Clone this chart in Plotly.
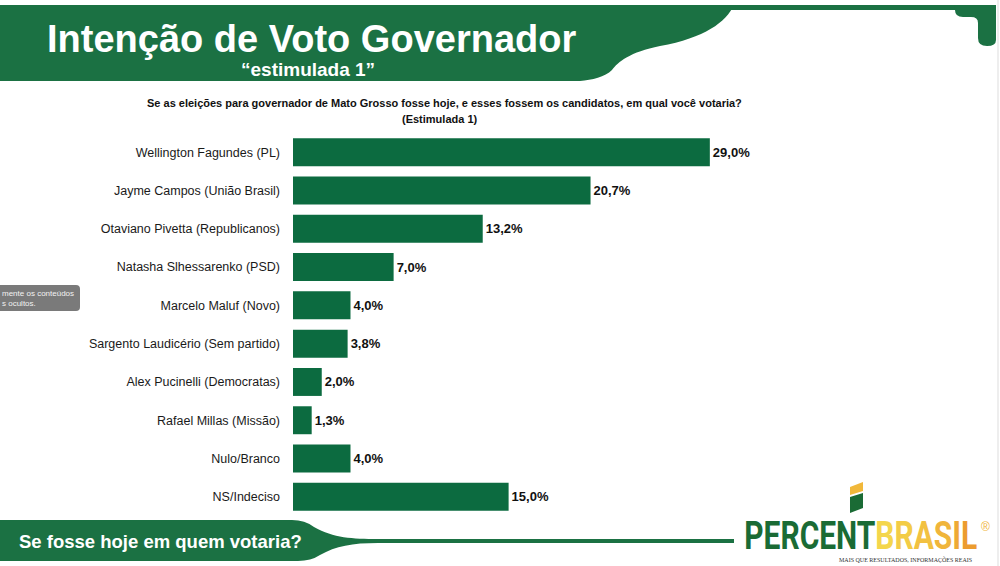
import plotly.graph_objects as go

# --- Data ---
candidatos = [
    "Wellington Fagundes (PL)",
    "Jayme Campos (União Brasil)",
    "Otaviano Pivetta (Republicanos)",
    "Natasha Slhessarenko (PSD)",
    "Marcelo Maluf (Novo)",
    "Sargento Laudicério (Sem partido)",
    "Alex Pucinelli (Democratas)",
    "Rafael Millas (Missão)",
    "Nulo/Branco",
    "NS/Indeciso",
]
percentuais = [29.0, 20.7, 13.2, 7.0, 4.0, 3.8, 2.0, 1.3, 4.0, 15.0]

W, H = 1000, 566
L, R, T, B = 293, 7, 133, 50
PW, PH = W - L - R, H - T - B

GREEN = "#0c6b40"
HEADER = "#1b7143"
FONT = "Liberation Sans, Arial, sans-serif"


def px(x):
    return (x - L) / PW


def py(y):
    return (H - B - y) / PH


def path(points):
    # points in pixel coords -> paper path string
    out = []
    for cmd, vals in points:
        if cmd == "Z":
            out.append("Z")
            continue
        coords = []
        for i in range(0, len(vals), 2):
            coords.append(f"{px(vals[i]):.5f},{py(vals[i + 1]):.5f}")
        out.append(cmd + " " + " ".join(coords))
    return " ".join(out)


fig = go.Figure()
fig.add_trace(go.Bar(
    x=percentuais,
    y=candidatos,
    orientation="h",
    marker=dict(color=GREEN, line=dict(width=0)),
    text=percentuais,
    texttemplate="%{x:.1f}%",
    textposition="outside",
    textfont=dict(family=FONT, size=13, color="#111111", weight="bold"),
    cliponaxis=False,
    hoverinfo="skip",
))

shapes = []
# header band with curved edge
shapes.append(dict(
    type="path", xref="paper", yref="paper", layer="below",
    path=path([
        ("M", [0, 5]), ("L", [734, 5]),
        ("C", [726, 22, 705, 38, 660, 46]),
        ("C", [630, 52, 618, 62, 612, 70]),
        ("C", [605, 77, 592, 80, 580, 81]),
        ("L", [0, 81]), ("Z", []),
    ]),
    fillcolor=HEADER, line=dict(width=0),
))
# thin strip on top right
shapes.append(dict(
    type="path", xref="paper", yref="paper", layer="below",
    path=path([("M", [730, 5]), ("L", [960, 5]), ("L", [960, 10]),
               ("L", [730, 10]), ("Z", [])]),
    fillcolor=HEADER, line=dict(width=0),
))
# knob at the right end
shapes.append(dict(
    type="path", xref="paper", yref="paper", layer="below",
    path=path([
        ("M", [955, 5]), ("L", [996, 5]), ("L", [996, 40]),
        ("Q", [996, 46, 987, 46]), ("Q", [978, 46, 978, 38]),
        ("L", [978, 23]), ("Q", [978, 17, 971, 17]),
        ("L", [963, 17]), ("Q", [955, 17, 955, 10]), ("Z", []),
    ]),
    fillcolor=HEADER, line=dict(width=0),
))
# bottom banner with tapered tail
shapes.append(dict(
    type="path", xref="paper", yref="paper", layer="below",
    path=path([
        ("M", [0, 520]), ("L", [292, 520]),
        ("Q", [305, 520, 314, 527]),
        ("C", [334, 538, 352, 539, 378, 539]),
        ("L", [734, 539]), ("L", [734, 543]), ("L", [378, 543]),
        ("C", [352, 543, 336, 546, 320, 555]),
        ("Q", [311, 561, 298, 561]),
        ("L", [0, 561]), ("Z", []),
    ]),
    fillcolor=HEADER, line=dict(width=0),
))
# logo icon
shapes.append(dict(
    type="path", xref="paper", yref="paper",
    path=path([("M", [850, 487]), ("L", [863, 482]), ("L", [863, 491]),
               ("L", [850, 495]), ("Z", [])]),
    fillcolor="#f1b83a", line=dict(width=0),
))
shapes.append(dict(
    type="path", xref="paper", yref="paper",
    path=path([("M", [850, 497]), ("L", [863, 493]), ("L", [863, 508]),
               ("L", [850, 513]), ("Z", [])]),
    fillcolor="#1a6b35", line=dict(width=0),
))
# grey tooltip box on the left
shapes.append(dict(
    type="path", xref="paper", yref="paper",
    path=path([("M", [0, 285]), ("L", [76, 285]), ("Q", [80, 285, 80, 289]),
               ("L", [80, 307]), ("Q", [80, 311, 76, 311]),
               ("L", [0, 311]), ("Z", [])]),
    fillcolor="#7a7a7a", line=dict(width=0),
))
# page border on the right
shapes.append(dict(
    type="line", xref="paper", yref="paper",
    x0=px(998), x1=px(998), y0=py(0), y1=py(566),
    line=dict(color="#dddddd", width=1),
))


def ann(x, y, text, size, color="#111111", bold=False, anchor="center", family=FONT):
    return dict(
        x=px(x), y=py(y), xref="paper", yref="paper", text=text,
        showarrow=False, xanchor=anchor, yanchor="middle",
        font=dict(family=family, size=size, color=color,
                  weight="bold" if bold else "normal"),
    )


brasil_cols = ["#f4d64c", "#f3cc46", "#f2c141", "#f0b53b", "#eea935", "#ec9c2f"]
brasil = "".join(f"<span style='color:{c}'>{ch}</span>"
                 for ch, c in zip("BRASIL", brasil_cols))

annotations = [
    ann(311, 39, "Intenção de Voto Governador", 38, "white", True),
    ann(308, 69, "“estimulada 1”", 19, "white", True),
    ann(444, 103, "Se as eleições para governador de Mato Grosso fosse hoje, "
        "e esses fossem os candidatos, em qual você votaria?", 11, "#111111", True),
    ann(440, 119, "(Estimulada 1)", 11, "#111111", True),
    ann(17, 541, "Se fosse hoje em quem votaria?", 18.5, "white", True, "left"),
    ann(861, 536, "<span style='color:#1a6b35'>PERCENT</span>" + brasil, 38,
        "#1a6b35", True, "center", "Roboto, sans-serif"),
    ann(985, 527, "®", 12, "#f0b53b", False),
    ann(905, 559, "MAIS QUE RESULTADOS, INFORMAÇÕES REAIS", 6, "#333333",
        False, "center", "Liberation Serif, serif"),
    dict(x=px(0), y=py(298), xref="paper", yref="paper",
         text="mente os conteúdos<br>s ocultos.", showarrow=False,
         xanchor="left", yanchor="middle", align="left",
         font=dict(family=FONT, size=8, color="#f2f2f2")),
]

fig.update_layout(
    width=W, height=H,
    margin=dict(l=L, r=R, t=T, b=B),
    paper_bgcolor="white", plot_bgcolor="white",
    separators=",.",
    bargap=0.27,
    showlegend=False,
    shapes=shapes,
    annotations=annotations,
    xaxis=dict(range=[0, 48.7], visible=False, fixedrange=True),
    yaxis=dict(
        autorange="reversed", showgrid=False, zeroline=False, showline=False,
        ticks="", ticklabelstandoff=12,
        tickfont=dict(family=FONT, size=12.5, color="#1a1a1a"),
        fixedrange=True,
    ),
)

# squeeze the logo word horizontally so it looks condensed like the original
js = """
document.body.style.margin = '0';
document.querySelectorAll('.annotation-text').forEach(function (t) {
  if (t.textContent.indexOf('PERCENT') === 0) {
    var b = t.getBBox();
    var s = 233 / b.width;
    var cx = b.x + b.width / 2;
    t.setAttribute('transform',
      'translate(' + cx + ',0) scale(' + s + ',1) translate(' + (-cx) + ',0)');
  }
});
"""

fig.write_html("out.html", config={"displayModeBar": False}, post_script=js)
